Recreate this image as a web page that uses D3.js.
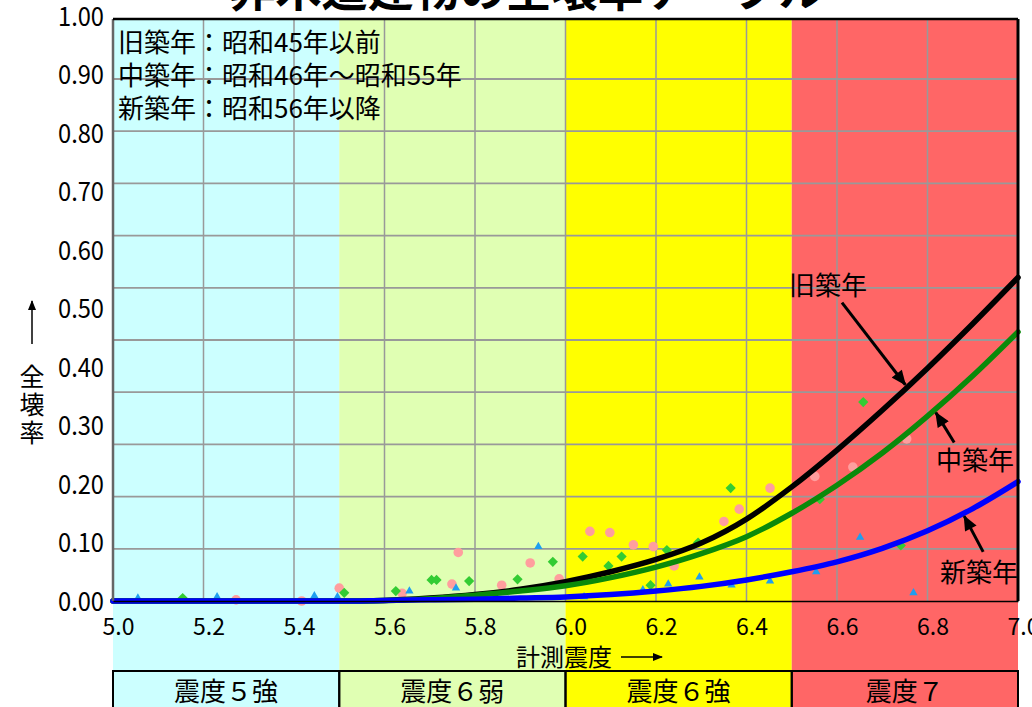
<!DOCTYPE html>
<html>
<head>
<meta charset="utf-8">
<script src="https://cdn.jsdelivr.net/npm/d3@7"></script>
<style>
  body { margin: 0; background: #fff; }
  svg text { font-family: "Noto Sans CJK JP", "Noto Sans", sans-serif; fill: #000; }
</style>
</head>
<body>
<svg id="chart" width="1032" height="707"></svg>
<script>
// ---- data ----
const chartTitle = "非木造建物の全壊率テーブル";
const legendLines = ["旧築年：昭和45年以前", "中築年：昭和46年～昭和55年", "新築年：昭和56年以降"];

const intensityNames = ["震度５強", "震度６弱", "震度６強", "震度７"];
const intensityEdges = [5.0, 5.5, 6.0, 6.5, 7.0];
const intensityColors = ["#CCFFFF", "#E0FFB3", "#FFFF00", "#FF6666"];

const xTicks = [5.0, 5.2, 5.4, 5.6, 5.8, 6.0, 6.2, 6.4, 6.6, 6.8, 7.0];
const yTicks = [0, 0.1, 0.2, 0.3, 0.4, 0.5, 0.6, 0.7, 0.8, 0.9, 1.0];

// fitted curves (計測震度 -> 全壊率)
const curveX  = [5.0, 5.1, 5.2, 5.3, 5.4, 5.5, 5.6, 5.7, 5.8, 5.9, 6.0, 6.1, 6.2, 6.3, 6.4, 6.5, 6.6, 6.7, 6.8, 6.9, 7.0];
const oldRate = [0, 0, 0, 0, 0, 0, 0.001, 0.005, 0.011, 0.020, 0.033, 0.050, 0.071, 0.099, 0.140, 0.195, 0.258, 0.326, 0.398, 0.474, 0.553];
const midRate = [0, 0, 0, 0, 0, 0, 0.001, 0.004, 0.010, 0.017, 0.026, 0.040, 0.058, 0.081, 0.110, 0.150, 0.198, 0.253, 0.316, 0.385, 0.460];
const newRate = [0, 0, 0, 0, 0, 0, 0.001, 0.002, 0.003, 0.005, 0.007, 0.011, 0.017, 0.025, 0.036, 0.050, 0.067, 0.090, 0.120, 0.158, 0.204];

// observed points [計測震度, 全壊率]
const oldObs = [
  [5.272, 0.002], [5.417, 0.000], [5.500, 0.022], [5.639, 0.013], [5.763, 0.083],
  [5.749, 0.029], [5.859, 0.027], [5.922, 0.065], [5.986, 0.038], [6.054, 0.119],
  [6.098, 0.117], [6.150, 0.096], [6.194, 0.093], [6.240, 0.060], [6.350, 0.136],
  [6.384, 0.157], [6.452, 0.193], [6.551, 0.213], [6.635, 0.229], [6.754, 0.277]
];
const midObs = [
  [5.154, 0.005], [5.511, 0.014], [5.625, 0.017], [5.704, 0.036], [5.715, 0.036],
  [5.787, 0.034], [5.894, 0.037], [5.972, 0.067], [6.038, 0.076], [6.095, 0.060],
  [6.124, 0.076], [6.188, 0.027], [6.224, 0.087], [6.293, 0.100], [6.365, 0.193],
  [6.562, 0.174], [6.658, 0.340], [6.741, 0.095]
];
const newObs = [
  [5.055, 0.005], [5.230, 0.007], [5.445, 0.009], [5.496, 0.007], [5.655, 0.017],
  [5.758, 0.022], [5.940, 0.093], [6.041, 0.007], [6.171, 0.019], [6.227, 0.029],
  [6.296, 0.041], [6.367, 0.027], [6.452, 0.034], [6.554, 0.050], [6.651, 0.109],
  [6.769, 0.014]
];

// curve labels: text position, arrow tail, arrow tip x (tip sits on the curve)
const labelNames = ["旧築年", "中築年", "新築年"];
const labelPos   = [[6.580, 0.538], [6.905, 0.240], [6.914, 0.048]];
const arrowTail  = [[6.611, 0.510], [6.859, 0.271], [6.923, 0.084]];
const arrowTipX  = [6.755, 6.815, 6.878];

// ---- layout ----
const svg = d3.select("#chart");
const plotTop = 19, plotBottom = 601;
const x = d3.scaleLinear().domain([5, 7]).range([113, 1018]);
const y = d3.scaleLinear().domain([0, 1]).range([601, 16]);
// the printed grid rows are spaced tighter than the value labels
const gridRow = d3.scaleLinear().domain([0, 10]).range([601, 79]);

const curves = [
  { rate: oldRate, color: "#000000" },
  { rate: midRate, color: "#0A8A0A" },
  { rate: newRate, color: "#0000FF" }
];

// defs: arrowheads
const defs = svg.append("defs");
defs.append("marker")
  .attr("id", "head")
  .attr("markerUnits", "userSpaceOnUse")
  .attr("viewBox", "0 0 14 12")
  .attr("refX", 13).attr("refY", 6)
  .attr("markerWidth", 16).attr("markerHeight", 13)
  .attr("orient", "auto")
  .append("path").attr("d", "M0,0 L14,6 L0,12 Z").attr("fill", "#000");
defs.append("marker")
  .attr("id", "headSmall")
  .attr("markerUnits", "userSpaceOnUse")
  .attr("viewBox", "0 0 10 8")
  .attr("refX", 9).attr("refY", 4)
  .attr("markerWidth", 10).attr("markerHeight", 8)
  .attr("orient", "auto")
  .append("path").attr("d", "M0,0 L10,4 L0,8 Z").attr("fill", "#000");

// intensity bands (run from plot top down to page bottom)
svg.append("g").selectAll("rect")
  .data(intensityColors)
  .join("rect")
  .attr("x", (d, i) => x(intensityEdges[i]))
  .attr("width", (d, i) => x(intensityEdges[i + 1]) - x(intensityEdges[i]))
  .attr("y", plotTop)
  .attr("height", 707 - plotTop + 5)
  .attr("fill", d => d);

// grid
const grid = svg.append("g").attr("stroke", "#999");
grid.selectAll("line.v")
  .data(xTicks.slice(1, -1))
  .join("line")
  .attr("class", "v")
  .attr("x1", d => x(d)).attr("x2", d => x(d))
  .attr("y1", plotTop).attr("y2", plotBottom)
  .attr("stroke-width", 1.5);
grid.selectAll("line.h")
  .data(d3.range(1, 11))
  .join("line")
  .attr("class", "h")
  .attr("x1", x(5)).attr("x2", x(7))
  .attr("y1", d => gridRow(d)).attr("y2", d => gridRow(d))
  .attr("stroke-width", 1.8);

// legend text
svg.append("g").selectAll("text")
  .data(legendLines)
  .join("text")
  .attr("x", 118)
  .attr("y", (d, i) => 43 + i * 33)
  .attr("dy", "0.35em")
  .style("font-size", "26px")
  .text(d => d);

// observed points
const pts = svg.append("g");
pts.selectAll("circle")
  .data(oldObs)
  .join("circle")
  .attr("cx", d => x(d[0])).attr("cy", d => y(d[1]))
  .attr("r", 4.8)
  .attr("fill", "#FF9E9E");
pts.selectAll("path.dia")
  .data(midObs)
  .join("path")
  .attr("class", "dia")
  .attr("transform", d => `translate(${x(d[0])},${y(d[1])}) rotate(45)`)
  .attr("d", d3.symbol(d3.symbolSquare, 52))
  .attr("fill", "#33CC33");
pts.selectAll("path.tri")
  .data(newObs)
  .join("path")
  .attr("class", "tri")
  .attr("transform", d => `translate(${x(d[0])},${y(d[1])})`)
  .attr("d", d3.symbol(d3.symbolTriangle, 30))
  .attr("fill", "#1E9EF0");

// fitted curves
const line = d3.line()
  .x((d, i) => x(curveX[i]))
  .y(d => y(d))
  .curve(d3.curveMonotoneX);
svg.append("g").selectAll("path")
  .data(curves)
  .join("path")
  .attr("d", d => line(d.rate))
  .attr("fill", "none")
  .attr("stroke", d => d.color)
  .attr("stroke-width", 5.5)
  .attr("stroke-linecap", "round");

// plot frame
svg.append("line").attr("x1", x(5)).attr("x2", x(5)).attr("y1", plotTop).attr("y2", plotBottom)
  .attr("stroke", "#666").attr("stroke-width", 2.5);
svg.append("line").attr("x1", x(5)).attr("x2", x(7)).attr("y1", plotTop).attr("y2", plotTop)
  .attr("stroke", "#000").attr("stroke-width", 2.5);
svg.append("line").attr("x1", x(7)).attr("x2", x(7)).attr("y1", plotTop).attr("y2", plotBottom)
  .attr("stroke", "#000").attr("stroke-width", 3);

// curve labels + arrows
const interp = (rate, v) => {
  const i = d3.bisectRight(curveX, v) - 1;
  const t = (v - curveX[i]) / (curveX[i + 1] - curveX[i]);
  return rate[i] + t * (rate[i + 1] - rate[i]);
};
const ann = svg.append("g");
labelNames.forEach((name, i) => {
  ann.append("text")
    .attr("x", x(labelPos[i][0])).attr("y", y(labelPos[i][1]))
    .attr("dy", "0.35em")
    .attr("text-anchor", "middle")
    .style("font-size", "26px")
    .text(name);
  const tx = x(arrowTipX[i]), ty = y(interp(curves[i].rate, arrowTipX[i]));
  const sx = x(arrowTail[i][0]), sy = y(arrowTail[i][1]);
  const len = Math.hypot(tx - sx, ty - sy);
  ann.append("line")
    .attr("x1", sx).attr("y1", sy)
    .attr("x2", tx - (tx - sx) / len * 3).attr("y2", ty - (ty - sy) / len * 3)
    .attr("stroke", "#000").attr("stroke-width", 3)
    .attr("marker-end", "url(#head)");
});

// axes
const xAxis = svg.append("g")
  .attr("transform", `translate(0,${plotBottom})`)
  .call(d3.axisBottom(x).tickValues(xTicks).tickSize(0).tickFormat(d3.format(".1f")));
xAxis.select(".domain").attr("stroke", "#000").attr("stroke-width", 1.5);
xAxis.selectAll("text")
  .attr("y", 26).attr("dy", "0.35em").attr("dx", 5)
  .style("font-size", "23px")
  .attr("font-family", null);

const yAxis = svg.append("g")
  .attr("transform", `translate(104,0)`)
  .call(d3.axisLeft(y).tickValues(yTicks).tickSize(0).tickPadding(0).tickFormat(d3.format(".2f")));
yAxis.select(".domain").remove();
yAxis.selectAll("text")
  .attr("dy", "0.35em")
  .attr("textLength", 46)
  .attr("lengthAdjust", "spacingAndGlyphs")
  .style("font-size", "26px");

// axis titles
svg.append("text")
  .attr("x", 516).attr("y", 658).attr("dy", "0.35em")
  .style("font-size", "24px")
  .text("計測震度");
svg.append("line")
  .attr("x1", 621).attr("x2", 662).attr("y1", 657).attr("y2", 657)
  .attr("stroke", "#000").attr("stroke-width", 1.5)
  .attr("marker-end", "url(#headSmall)");

svg.append("line")
  .attr("x1", 32).attr("x2", 32).attr("y1", 344).attr("y2", 301)
  .attr("stroke", "#000").attr("stroke-width", 1.5)
  .attr("marker-end", "url(#headSmall)");
svg.append("g").selectAll("text")
  .data(Array.from("全壊率"))
  .join("text")
  .attr("x", 32).attr("y", (d, i) => 377 + i * 28)
  .attr("dy", "0.35em")
  .attr("text-anchor", "middle")
  .style("font-size", "25px")
  .text(d => d);

// intensity class boxes
const boxes = svg.append("g");
boxes.selectAll("rect")
  .data(intensityNames)
  .join("rect")
  .attr("x", (d, i) => x(intensityEdges[i]))
  .attr("width", (d, i) => x(intensityEdges[i + 1]) - x(intensityEdges[i]))
  .attr("y", 671).attr("height", 45)
  .attr("fill", "none")
  .attr("stroke", "#000").attr("stroke-width", 2);
boxes.selectAll("text")
  .data(intensityNames)
  .join("text")
  .attr("x", (d, i) => (x(intensityEdges[i]) + x(intensityEdges[i + 1])) / 2)
  .attr("y", 692).attr("dy", "0.35em")
  .attr("text-anchor", "middle")
  .style("font-size", "26px")
  .text(d => d);

// title (cut off by the top edge in the original)
svg.append("text")
  .attr("x", 527).attr("y", 6)
  .attr("text-anchor", "middle")
  .style("font-size", "46px").style("font-weight", "bold")
  .text(chartTitle);
</script>
</body>
</html>
